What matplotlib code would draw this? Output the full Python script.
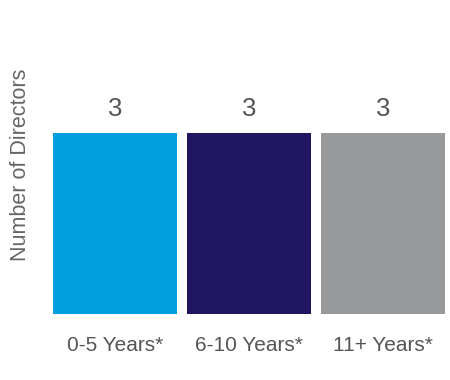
import matplotlib.pyplot as plt

categories = ["0-5 Years*", "6-10 Years*", "11+ Years*"]
directors = [3, 3, 3]
colors = ["#009FDF", "#201560", "#97999B"]

plt.rcParams['font.family'] = ['Liberation Sans', 'DejaVu Sans']

fig = plt.figure(figsize=(4.5, 3.8), dpi=100)
ax = fig.add_axes([53 / 450, 66 / 380, 392 / 450, 181 / 380])

x = range(len(categories))
bars = ax.bar(x, directors, width=124 / 134, color=colors)
ax.set_xlim(-0.5 * 124 / 134, 2 + 0.5 * 124 / 134)
ax.set_ylim(0, 3)

for rect, v in zip(bars, directors):
    ax.annotate(str(v), (rect.get_x() + rect.get_width() / 2, v),
                xytext=(0, 9), textcoords="offset points",
                ha="center", va="bottom", fontsize=18.5, color="#555555",
                annotation_clip=False)

ax.set_xticks(list(x))
ax.set_xticklabels(categories, fontsize=15, color="#555555")
ax.tick_params(axis="x", length=0, pad=16)
ax.set_yticks([])
for s in ax.spines.values():
    s.set_visible(False)

fig.text(21 / 450, 1 - 165 / 380, "Number of Directors", rotation=90,
         ha="center", va="center", fontsize=15.5, color="#666666")

fig.savefig("out.png", dpi=100)
